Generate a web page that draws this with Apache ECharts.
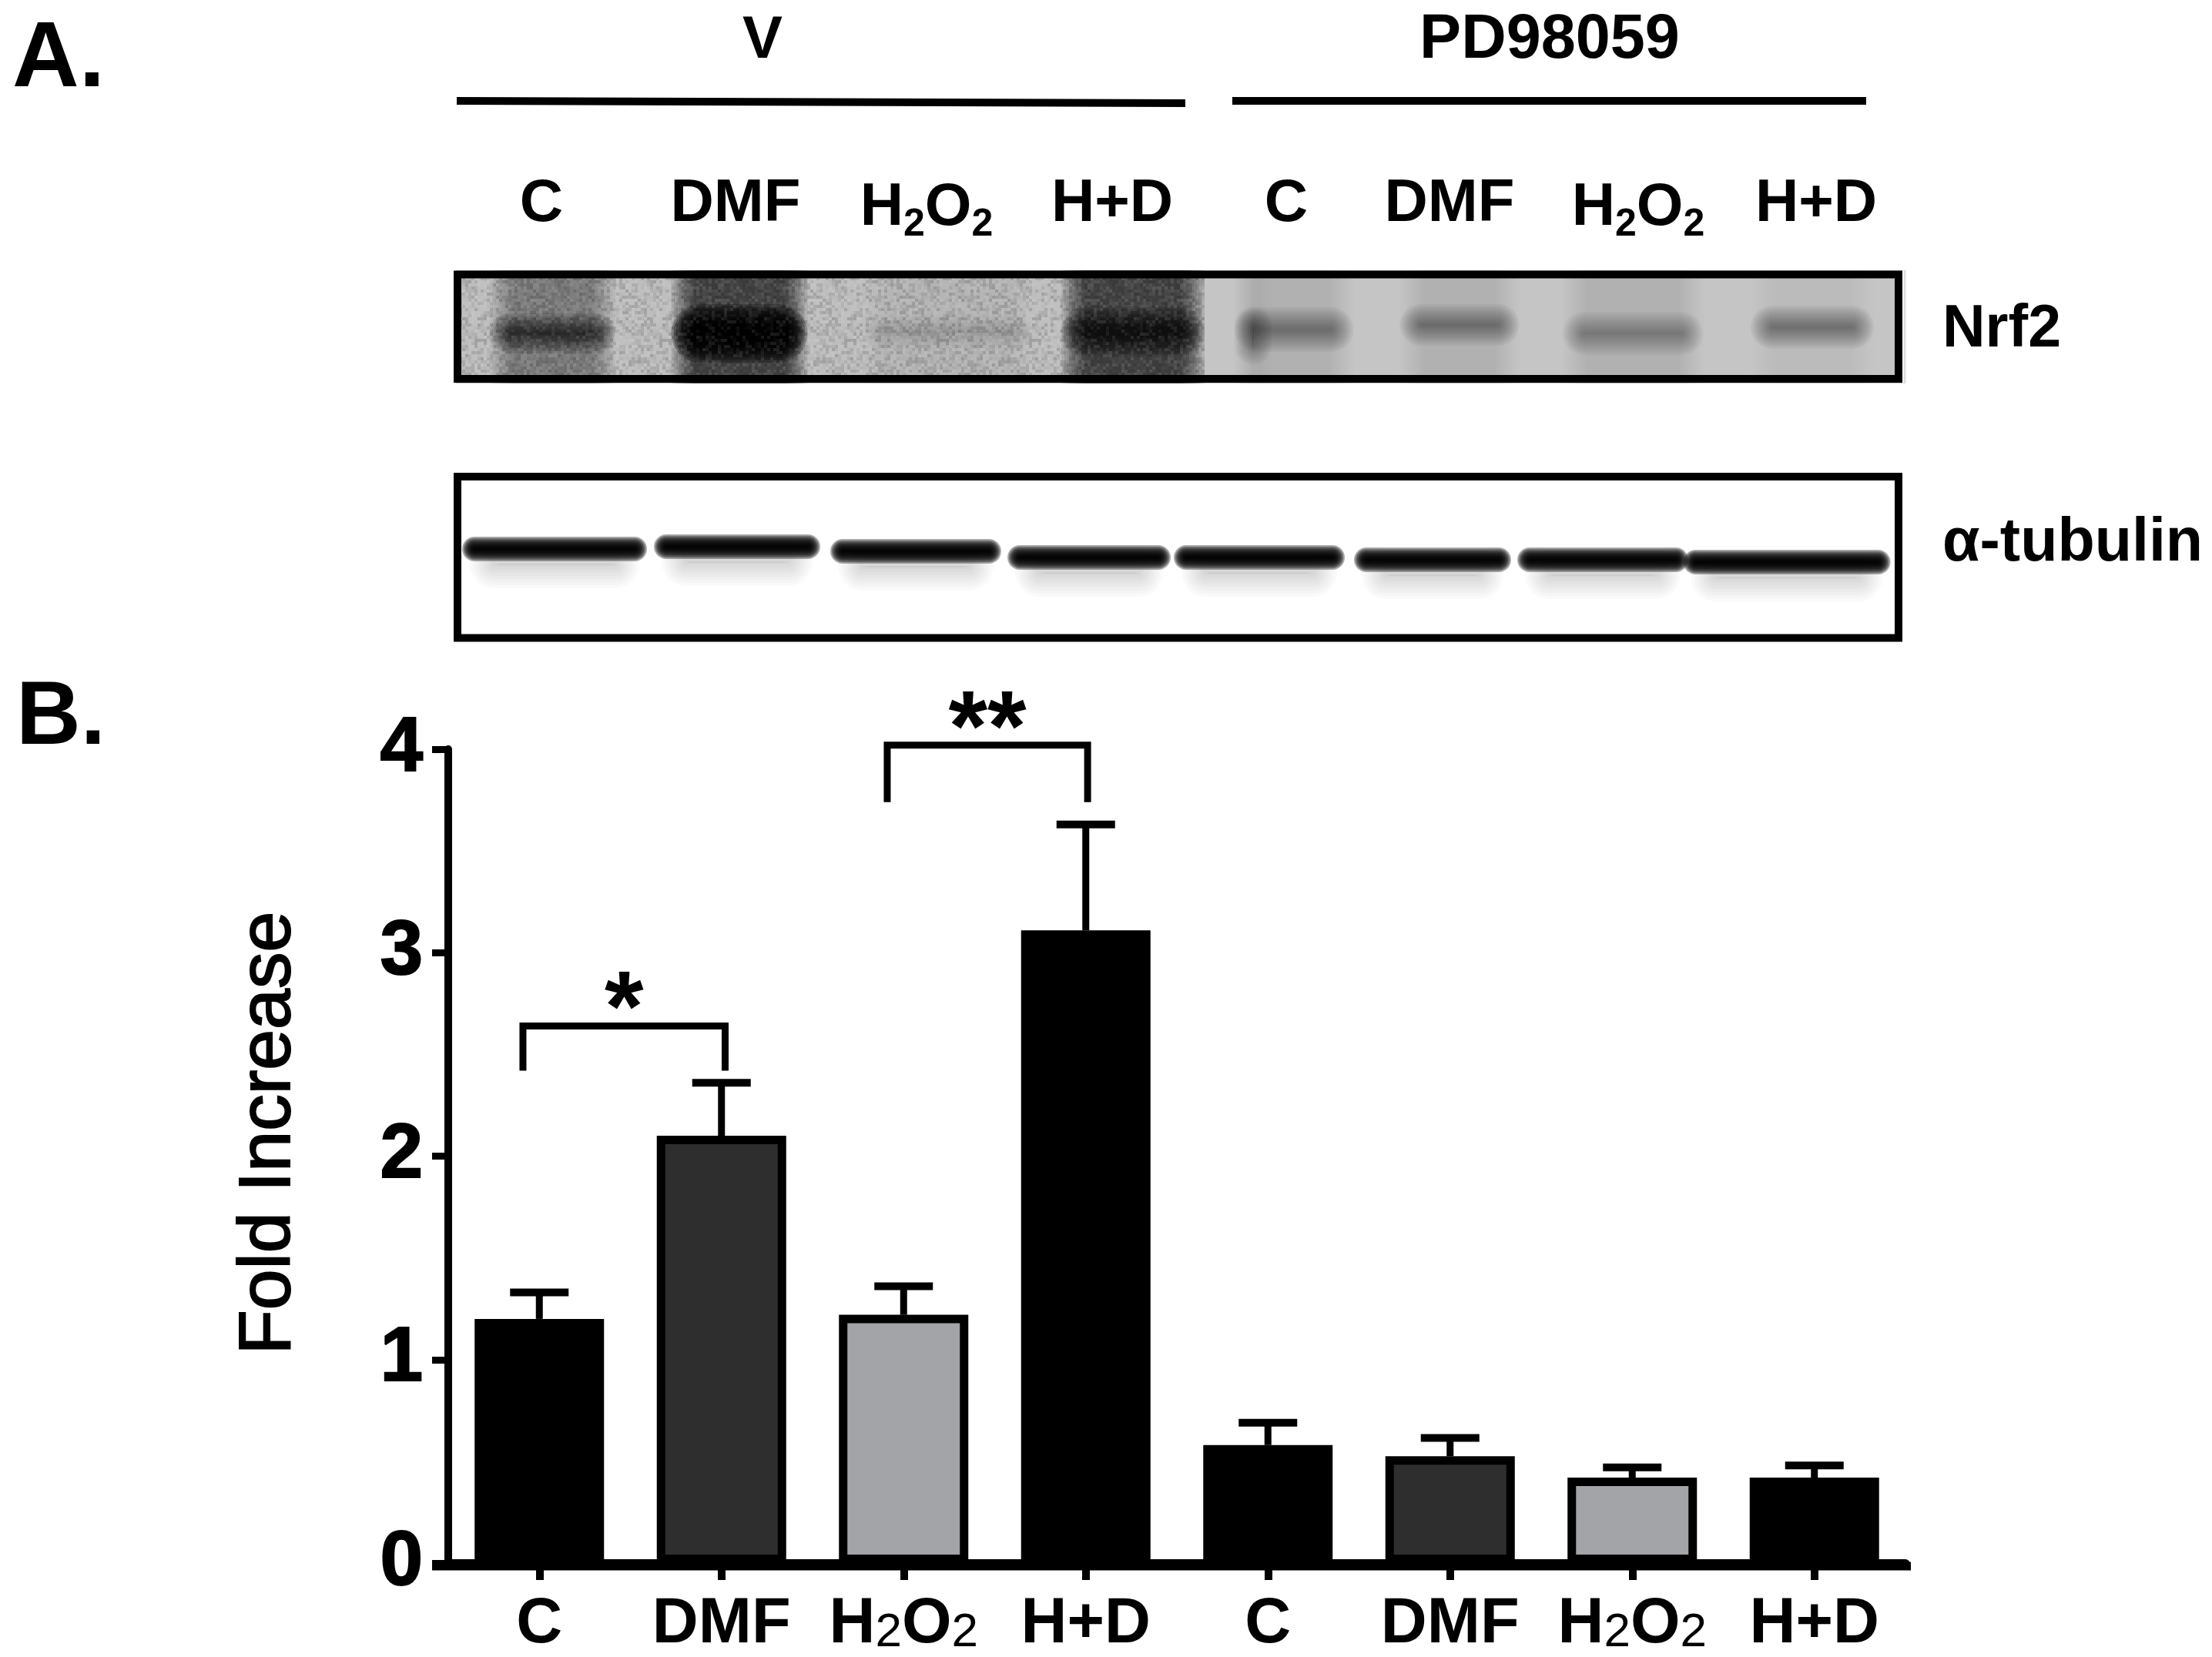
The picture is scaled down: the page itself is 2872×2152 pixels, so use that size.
<!DOCTYPE html>
<html>
<head>
<meta charset="utf-8">
<style>
  html, body { margin: 0; padding: 0; background: #fff; }
  #main { width: 2872px; height: 2152px; }
</style>
<script src="https://cdn.jsdelivr.net/npm/echarts@6/dist/echarts.min.js"></script>
</head>
<body>
<div id="main"></div>
<script>
// panel B values
const categories = ['C', 'DMF', 'H2O2', 'H+D', 'C', 'DMF', 'H2O2', 'H+D'];
const foldIncrease = [1.2, 2.1, 1.22, 3.11, 0.58, 0.525, 0.42, 0.42];
const errorTop = [1.33, 2.36, 1.36, 3.63, 0.69, 0.615, 0.47, 0.48];
const yTicks = [0, 1, 2, 3, 4];
const barColours = ['#000000', '#2e2e2e', '#a3a4a7', '#000000', '#000000', '#2e2e2e', '#a3a4a7', '#000000'];

// significance brackets: from lane, to lane (in lane units), top, tip, stars
const brackets = [
    [0.41, 1.52, 2.64, 2.42, '*'],
    [2.41, 3.51, 4.02, 3.74, '**']
];

// panel A blots, read along each membrane: centre, row, lane width, band thickness
// the ninth Nrf2 entry is the dark streak at the edge of the PD98059 C lane
const nrf2Centre = [125, 368, 638, 879, 1088, 1303, 1528, 1761, 1035];
const nrf2Row = [82, 82, 80, 80, 77, 71, 82, 74, 85];
const nrf2Width = [163, 177, 220, 186, 155, 155, 183, 160, 48];
const nrf2Thick = [26, 50, 20, 40, 32, 28, 30, 30, 50];
const nrf2Band = [0.65, 0.95, 0.14, 0.72, 0.36, 0.38, 0.3, 0.38, 0.3];
const nrf2Smear = [0.34, 0.62, 0.05, 0.62, 0.08, 0.07, 0.07, 0.03, 0.05];

const tubulinCentre = [128, 365, 597, 822, 1043, 1268, 1489, 1728];
const tubulinRow = [99, 96, 102, 110, 110, 113, 113, 116];
const tubulinWidth = [234, 210, 216, 206, 216, 198, 216, 263];

const FONT = '"Liberation Sans", Arial, sans-serif';

function label(text, x, y, size, extra) {
    return {
        type: 'text', x: x, y: y, z: 100,
        style: Object.assign({
            text: text, fill: '#000', fontFamily: FONT, fontWeight: 'bold', fontSize: size,
            align: 'center', verticalAlign: 'middle'
        }, extra || {})
    };
}

// H2O2 with a lowered subscript, as on the top row of panel A
function peroxide(x, y) {
    return label('{b|H}{s|2}{b|O}{s|2}', x, y, 78, {
        rich: {
            b: { fontFamily: FONT, fontWeight: 'bold', fontSize: 78, fill: '#000', lineHeight: 86, verticalAlign: 'top' },
            s: { fontFamily: FONT, fontWeight: 'bold', fontSize: 50, fill: '#000', lineHeight: 86, verticalAlign: 'bottom' }
        }
    });
}

function stroke(x1, y1, x2, y2, width, colour) {
    return {
        type: 'line', z: 100,
        shape: { x1: x1, y1: y1, x2: x2, y2: y2 },
        style: { stroke: colour || '#000', lineWidth: width }
    };
}

function frame(x, y, w, h) {
    return {
        type: 'rect', z: 100,
        shape: { x: x, y: y, width: w, height: h },
        style: { fill: 'transparent', stroke: '#000', lineWidth: 10 }
    };
}

// soft edged blot band: a stack of faint rounded rects
function feather(cx, cy, w, h, alpha, soft, radius) {
    const steps = 10;
    const a = 1 - Math.pow(1 - Math.min(alpha, 0.985), 1 / steps);
    const out = [];
    for (let i = 0; i < steps; i++) {
        const grow = soft * (0.5 - i / (steps - 1));
        const bw = Math.max(w + grow * 2, 2);
        const bh = Math.max(h + grow * 2, 2);
        const r = radius === undefined ? Math.min(bh, bw) / 2 : radius;
        out.push({
            type: 'rect',
            shape: { x: cx - bw / 2, y: cy - bh / 2, width: bw, height: bh, r: r },
            style: { fill: 'rgba(0,0,0,' + a + ')' }
        });
    }
    return out;
}

// grain of the scanned film on the V half of the Nrf2 blot, not data
function grainTile() {
    const size = 120, cell = 4;
    const c = document.createElement('canvas');
    c.width = c.height = size;
    const ctx = c.getContext('2d');
    for (let y = 0; y < size; y += cell) {
        for (let x = 0; x < size; x += cell) {
            const h = Math.sin(x * 12.9898 + y * 78.233) * 43758.5453;
            const n = h - Math.floor(h);
            ctx.fillStyle = n > 0.5 ? 'rgba(255,255,255,' + (n - 0.5) * 0.22 + ')' : 'rgba(0,0,0,' + (0.5 - n) * 0.3 + ')';
            ctx.fillRect(x, y, cell, cell);
        }
    }
    return c;
}

function renderErrorBar(params, api) {
    const base = api.coord([api.value(0), api.value(1)]);
    const top = api.coord([api.value(0), api.value(2)]);
    return {
        type: 'group',
        children: [
            { type: 'line', shape: { x1: base[0], y1: base[1], x2: top[0], y2: top[1] }, style: { stroke: '#000', lineWidth: 9 } },
            { type: 'line', shape: { x1: top[0] - 38, y1: top[1], x2: top[0] + 38, y2: top[1] }, style: { stroke: '#000', lineWidth: 10 } }
        ]
    };
}

function renderBracket(params, api) {
    const a = api.coord([api.value(0), api.value(3)]);
    const b = api.coord([api.value(0), api.value(2)]);
    const c = api.coord([api.value(1), api.value(2)]);
    const d = api.coord([api.value(1), api.value(3)]);
    return {
        type: 'group',
        children: [
            {
                type: 'polyline',
                shape: { points: [a, b, c, d] },
                style: { stroke: '#000', lineWidth: 9, fill: null }
            },
            {
                type: 'text',
                x: (b[0] + c[0]) / 2,
                y: b[1] - 16,
                style: {
                    text: brackets[params.dataIndex][4], fontFamily: FONT, fontWeight: 'bold', fontSize: 130,
                    fill: '#000', align: 'center', verticalAlign: 'middle'
                }
            }
        ]
    };
}

function renderNrf2(params, api) {
    const c = api.coord([api.value(0), api.value(1)]);
    const w = api.value(2);
    return {
        type: 'group',
        children: feather(c[0], c[1], w - 30, 240, api.value(4), 30, 12)
            .concat(feather(c[0], c[1], w - 26, api.value(5), api.value(3), 26))
    };
}

function renderTubulin(params, api) {
    const c = api.coord([api.value(0), api.value(1)]);
    const w = api.value(2);
    return {
        type: 'group',
        children: feather(c[0], c[1] + 20, w - 50, 26, 0.18, 36)
            .concat(feather(c[0], c[1], w - 10, 16, 0.98, 16))
    };
}

const chart = echarts.init(document.getElementById('main'));

chart.setOption({
    animation: false,
    backgroundColor: '#fff',
    tooltip: { show: false },
    grid: [
        { left: 582, top: 973, width: 1892, height: 1061 },
        { left: 592, top: 351, width: 1878, height: 147 },
        { left: 592, top: 614, width: 1878, height: 220 }
    ],
    xAxis: [
        {
            type: 'category',
            gridIndex: 0,
            data: categories,
            axisLine: { lineStyle: { color: '#000', width: 11 } },
            axisTick: { show: true, alignWithLabel: true, length: 22, lineStyle: { color: '#000', width: 10 } },
            axisLabel: {
                interval: 0,
                margin: 32,
                formatter: function (v) {
                    return v === 'H2O2' ? '{b|H}{s|2}{b|O}{s|2}' : '{b|' + v + '}';
                },
                rich: {
                    b: { fontFamily: FONT, fontWeight: 'bold', fontSize: 83, color: '#000', lineHeight: 90, verticalAlign: 'bottom' },
                    s: { fontFamily: FONT, fontWeight: 'normal', fontSize: 62, color: '#000', lineHeight: 90, verticalAlign: 'bottom' }
                }
            }
        },
        // same width as the bar axis, in lane units, for the brackets
        { type: 'value', gridIndex: 0, min: 0, max: 8, show: false },
        { type: 'value', gridIndex: 1, min: 0, max: 1878, show: false },
        { type: 'value', gridIndex: 2, min: 0, max: 1878, show: false }
    ],
    yAxis: [
        {
            type: 'value',
            gridIndex: 0,
            min: yTicks[0],
            max: yTicks[yTicks.length - 1],
            interval: 1,
            name: 'Fold Increase',
            nameLocation: 'middle',
            nameGap: 185,
            nameRotate: 90,
            nameTextStyle: {
                fontFamily: FONT, fontSize: 95, color: '#000',
                textBorderColor: '#000', textBorderWidth: 2, padding: [0, 0, 0, 60]
            },
            splitLine: { show: false },
            axisLine: { show: true, lineStyle: { color: '#000', width: 10 } },
            axisTick: { show: true, length: 21, lineStyle: { color: '#000', width: 9 } },
            axisLabel: {
                margin: 33, fontFamily: FONT, fontWeight: 'bold', fontSize: 100, color: '#000',
                textBorderColor: '#000', textBorderWidth: 2, padding: [8, 0, 0, 0]
            }
        },
        { type: 'value', gridIndex: 1, min: 0, max: 147, inverse: true, show: false },
        { type: 'value', gridIndex: 2, min: 0, max: 220, inverse: true, show: false }
    ],
    series: [
        {
            type: 'bar',
            xAxisIndex: 0,
            yAxisIndex: 0,
            barWidth: 168,
            data: foldIncrease.map(function (v, i) {
                return {
                    value: v,
                    itemStyle: { color: barColours[i], borderColor: '#000', borderWidth: 11 }
                };
            })
        },
        {
            type: 'custom',
            xAxisIndex: 0,
            yAxisIndex: 0,
            renderItem: renderErrorBar,
            encode: { x: 0, y: 2 },
            z: 1,
            data: foldIncrease.map(function (v, i) { return [i, v, errorTop[i]]; })
        },
        {
            type: 'custom',
            xAxisIndex: 1,
            yAxisIndex: 0,
            renderItem: renderBracket,
            clip: false,
            encode: { x: 0, y: 2 },
            data: brackets.map(function (b) { return [b[0], b[1], b[2], b[3]]; })
        },
        {
            type: 'custom',
            xAxisIndex: 2,
            yAxisIndex: 1,
            renderItem: renderNrf2,
            clip: true,
            encode: { x: 0, y: 1 },
            data: nrf2Centre.map(function (c, i) {
                return [c, nrf2Row[i], nrf2Width[i], nrf2Band[i], nrf2Smear[i], nrf2Thick[i]];
            })
        },
        {
            type: 'custom',
            xAxisIndex: 3,
            yAxisIndex: 2,
            renderItem: renderTubulin,
            clip: true,
            encode: { x: 0, y: 1 },
            data: tubulinCentre.map(function (c, i) {
                return [c, tubulinRow[i], tubulinWidth[i]];
            })
        }
    ],
    graphic: [
        // membrane background goes under the bands
        { type: 'rect', z: -1, shape: { x: 592, y: 351, width: 972, height: 147 }, style: { fill: '#bdbdbd' } },
        { type: 'rect', z: -1, shape: { x: 1564, y: 351, width: 906, height: 147 }, style: { fill: '#c5c5c5' } },
        { type: 'rect', z: 50, shape: { x: 597, y: 360, width: 967, height: 128 }, style: { fill: { image: grainTile(), repeat: 'repeat' } } },
        stroke(2473, 351, 2473, 498, 3, '#dddddd'),
        frame(594, 356.5, 1871, 135.5),
        frame(594, 619, 1871, 209.5),
        stroke(593, 131, 1539, 134, 10),
        stroke(1600, 131, 2423, 131, 10),
        // baseline runs a little past the last band on both sides
        stroke(561, 2034, 2481, 2034, 11),
        label('A.', 76, 79, 120),
        label('B.', 79, 934, 116),
        label('V', 990, 53, 78),
        label('PD98059', 2012, 53, 81),
        label('C', 703, 265, 78),
        label('DMF', 955, 265, 78),
        peroxide(1203, 274),
        label('H+D', 1444, 265, 78),
        label('C', 1670, 265, 78),
        label('DMF', 1882, 265, 78),
        peroxide(2127, 274),
        label('H+D', 2358, 265, 78),
        label('Nrf2', 2522, 429, 77, { align: 'left' }),
        label('\u03b1-tubulin', 2522, 706, 79, { align: 'left' })
    ]
});
</script>
</body>
</html>
